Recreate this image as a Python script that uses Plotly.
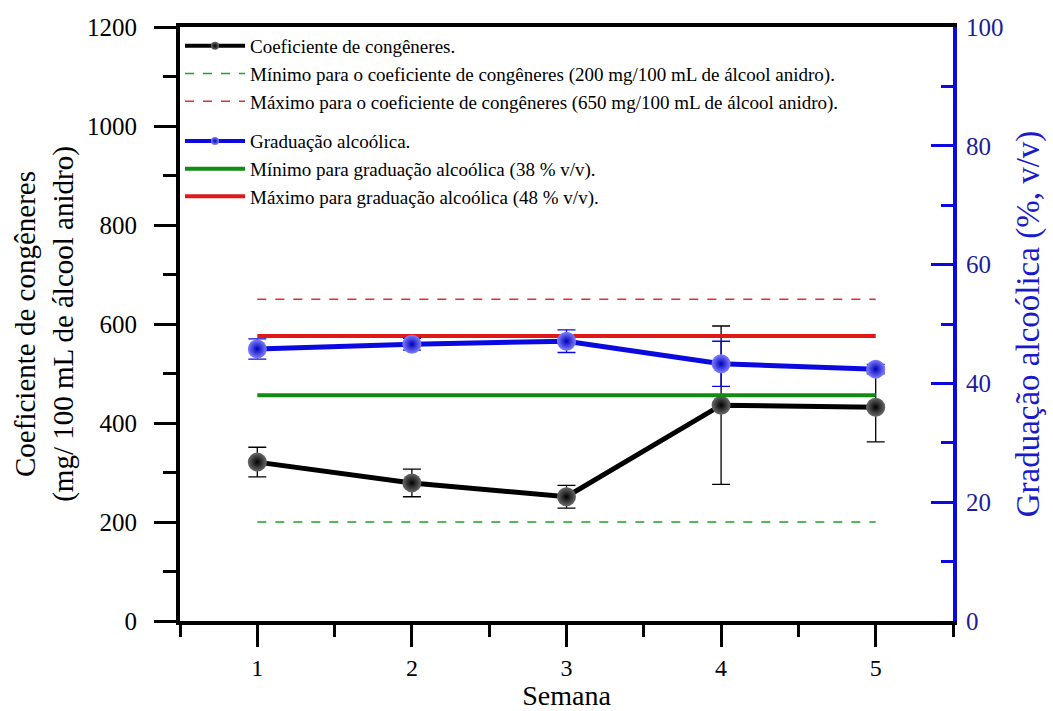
import plotly.graph_objects as go

semana = [1, 2, 3, 4, 5]
congeneres = [321, 279, 251, 436, 432]
congeneres_err = [30, 28, 23, 160, 70]
graduacao = [45.8, 46.6, 47.1, 43.3, 42.4]
graduacao_err = [1.7, 1.0, 1.9, 3.8, 0.8]
cong_min, cong_max = 200, 650
grad_min, grad_max = 38, 48

FONT = "Times New Roman, Liberation Serif, serif"
BLUE = "#0a0ae0"
BLACK_MK = dict(size=19, color="#6a6a6a", gradient=dict(type="radial", color="black"))
BLUE_MK = dict(size=19, color="#8080ff", gradient=dict(type="radial", color="#0000b8"))
fig = go.Figure()

# limit lines (congeneres, left axis)
fig.add_trace(go.Scatter(x=[semana[0], semana[-1]], y=[cong_min, cong_min], mode="lines",
                         line=dict(color="#22a022", width=1.4, dash="dash"),
                         name="Mínimo para o coeficiente de congêneres (200 mg/100 mL de álcool anidro).",
                         legendgroup="a", legendrank=2))
fig.add_trace(go.Scatter(x=[semana[0], semana[-1]], y=[cong_max, cong_max], mode="lines",
                         line=dict(color="#e03030", width=1.4, dash="dash"),
                         name="Máximo para o coeficiente de congêneres (650 mg/100 mL de álcool anidro).",
                         legendgroup="a", legendrank=3))
# congeneres data
fig.add_trace(go.Scatter(x=semana, y=congeneres, mode="lines+markers",
                         error_y=dict(type="data", array=congeneres_err, color="black", thickness=1.3, width=9),
                         line=dict(color="black", width=5),
                         marker=BLACK_MK, showlegend=False))
fig.add_trace(go.Scatter(x=[None], y=[None], mode="lines+markers", name="Coeficiente de congêneres.",
                         line=dict(color="black", width=4),
                         marker=dict(BLACK_MK, size=8),
                         legendgroup="a", legendrank=1))

# graduacao limits (right axis)
fig.add_trace(go.Scatter(x=[semana[0], semana[-1]], y=[grad_min, grad_min], mode="lines", yaxis="y2",
                         line=dict(color="#138a13", width=4),
                         name="Mínimo para graduação alcoólica (38 % v/v).", legendgroup="b", legendrank=5))
fig.add_trace(go.Scatter(x=[semana[0], semana[-1]], y=[grad_max, grad_max], mode="lines", yaxis="y2",
                         line=dict(color="#e01818", width=4),
                         name="Máximo para graduação alcoólica (48 % v/v).", legendgroup="b", legendrank=6))
fig.add_trace(go.Scatter(x=semana, y=graduacao, mode="lines+markers", yaxis="y2",
                         error_y=dict(type="data", array=graduacao_err, color=BLUE, thickness=1.3, width=9),
                         line=dict(color=BLUE, width=5),
                         marker=BLUE_MK, showlegend=False))
fig.add_trace(go.Scatter(x=[None], y=[None], mode="lines+markers", yaxis="y2", name="Graduação alcoólica.",
                         line=dict(color=BLUE, width=4),
                         marker=dict(BLUE_MK, size=8),
                         legendgroup="b", legendrank=4))

fig.update_layout(
    width=1053, height=711,
    margin=dict(l=180, r=100, t=27, b=90),
    paper_bgcolor="white", plot_bgcolor="white",
    font=dict(family=FONT, color="black"),
    showlegend=True,
    legend=dict(x=0.0, y=1.0, xanchor="left", yanchor="top", bgcolor="rgba(0,0,0,0)",
                font=dict(family=FONT, size=19, color="black"), tracegroupgap=12,
                traceorder="grouped", itemwidth=60),
    xaxis=dict(range=[0.5, 5.5], tick0=1, dtick=1, showgrid=False, zeroline=False, automargin=False,
               showline=True, linecolor="black", linewidth=4, mirror=True,
               ticks="outside", ticklen=22, tickwidth=3, tickcolor="black",
               minor=dict(dtick=0.5, ticks="outside", ticklen=12, tickwidth=3, tickcolor="black"),
               tickfont=dict(size=24, family=FONT), ticklabelstandoff=0,
               title=dict(text="Semana", font=dict(size=28, family=FONT), standoff=0)),
    yaxis=dict(range=[0, 1200], dtick=200, showgrid=False, zeroline=False, automargin=False,
               showline=True, linecolor="black", linewidth=4,
               ticks="outside", ticklen=22, tickwidth=3, tickcolor="black",
               minor=dict(dtick=100, ticks="outside", ticklen=13, tickwidth=3, tickcolor="black"),
               tickfont=dict(size=25, family=FONT), ticklabelstandoff=12,
               title=dict(text="Coeficiente de congêneres<br>(mg/ 100 mL de álcool anidro)",
                          font=dict(size=29, family=FONT), standoff=6)),
    yaxis2=dict(range=[0, 100], dtick=20, overlaying="y", side="right", showgrid=False, zeroline=False,
                automargin=False,
                showline=True, linecolor=BLUE, linewidth=4,
                ticks="inside", ticklen=22, tickwidth=3, tickcolor=BLUE,
                minor=dict(dtick=10, ticks="inside", ticklen=12, tickwidth=3, tickcolor=BLUE),
                tickfont=dict(size=25, family=FONT, color="#1c1c9a"), ticklabelstandoff=4,
                title=dict(text="Graduação alcoólica (%, v/v)", font=dict(size=33, family=FONT, color="#1a1acc"),
                           standoff=14)),
)

fig.write_html("out.html")
